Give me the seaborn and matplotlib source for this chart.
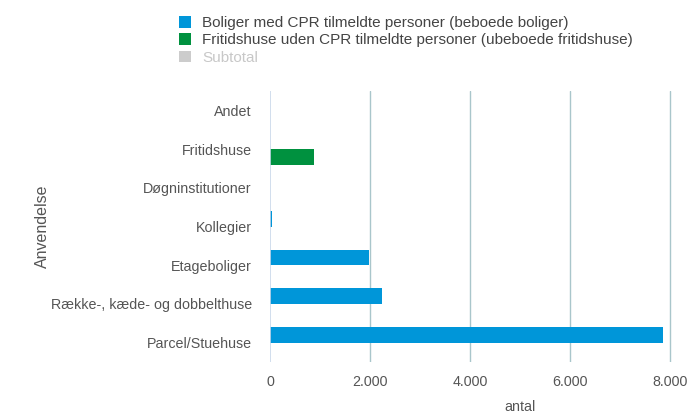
import pandas as pd
import matplotlib.pyplot as plt
import seaborn as sns
from matplotlib.patches import Patch

# data
categories = ["Andet", "Fritidshuse", "Døgninstitutioner", "Kollegier",
              "Etageboliger", "Række-, kæde- og dobbelthuse", "Parcel/Stuehuse"]
beboede = [0, 0, 0, 40, 1980, 2240, 7860]
fritid = [0, 880, 0, 0, 0, 0, 0]
series = ["Boliger med CPR tilmeldte personer (beboede boliger)",
          "Fritidshuse uden CPR tilmeldte personer (ubeboede fritidshuse)",
          "Subtotal"]
colors = ["#0096d9", "#00913f", "#cccccc"]
xticks = [0, 2000, 4000, 6000, 8000]
xtick_labels = ["0", "2.000", "4.000", "6.000", "8.000"]

df = pd.DataFrame({
    "Anvendelse": categories * 2,
    "antal": beboede + fritid,
    "serie": [series[0]] * len(categories) + [series[1]] * len(categories),
})

sns.set_style("white")
plt.rcParams["font.family"] = ["Liberation Sans", "DejaVu Sans"]

fig = plt.figure(figsize=(6.87, 4.16), dpi=100)
ax = fig.add_axes([270 / 687, 1 - 362 / 416, 500 / 687, (362 - 91) / 416])

sns.barplot(data=df, y="Anvendelse", x="antal", hue="serie",
            order=categories, hue_order=series[:2],
            palette=colors[:2], width=0.8, saturation=1,
            linewidth=0, legend=False, ax=ax)

ax.set_xlim(0, 10000)
ax.set_xticks(xticks)
ax.set_xticklabels(xtick_labels)
for v in xticks[1:]:
    ax.axvline(v, color="#a9c6cb", lw=1, zorder=0)
ax.axvline(0, color="#c9d8ea", lw=1.2, zorder=3)
for s in ax.spines.values():
    s.set_visible(False)

ax.tick_params(axis="both", length=0, labelsize=10.3, labelcolor="#555555")
ax.tick_params(axis="y", pad=13)
ax.tick_params(axis="x", pad=9)
ax.set_ylabel("Anvendelse", fontsize=11.5, color="#555555")
ax.yaxis.set_label_coords(-0.44, 0.5)
ax.set_xlabel("antal", fontsize=10.3, color="#555555", labelpad=8)

handles = [Patch(facecolor=c, edgecolor="none") for c in colors]
leg = fig.legend(handles, series, loc="upper left",
                 bbox_to_anchor=(173 / 687, 1 - 10 / 416),
                 frameon=False, fontsize=11, handlelength=0.8,
                 handleheight=0.8, handletextpad=0.7, labelspacing=0.2,
                 borderaxespad=0)
for t, c in zip(leg.get_texts(), ["#444444", "#444444", "#c8c8c8"]):
    t.set_color(c)

fig.savefig("out.png", dpi=100)
